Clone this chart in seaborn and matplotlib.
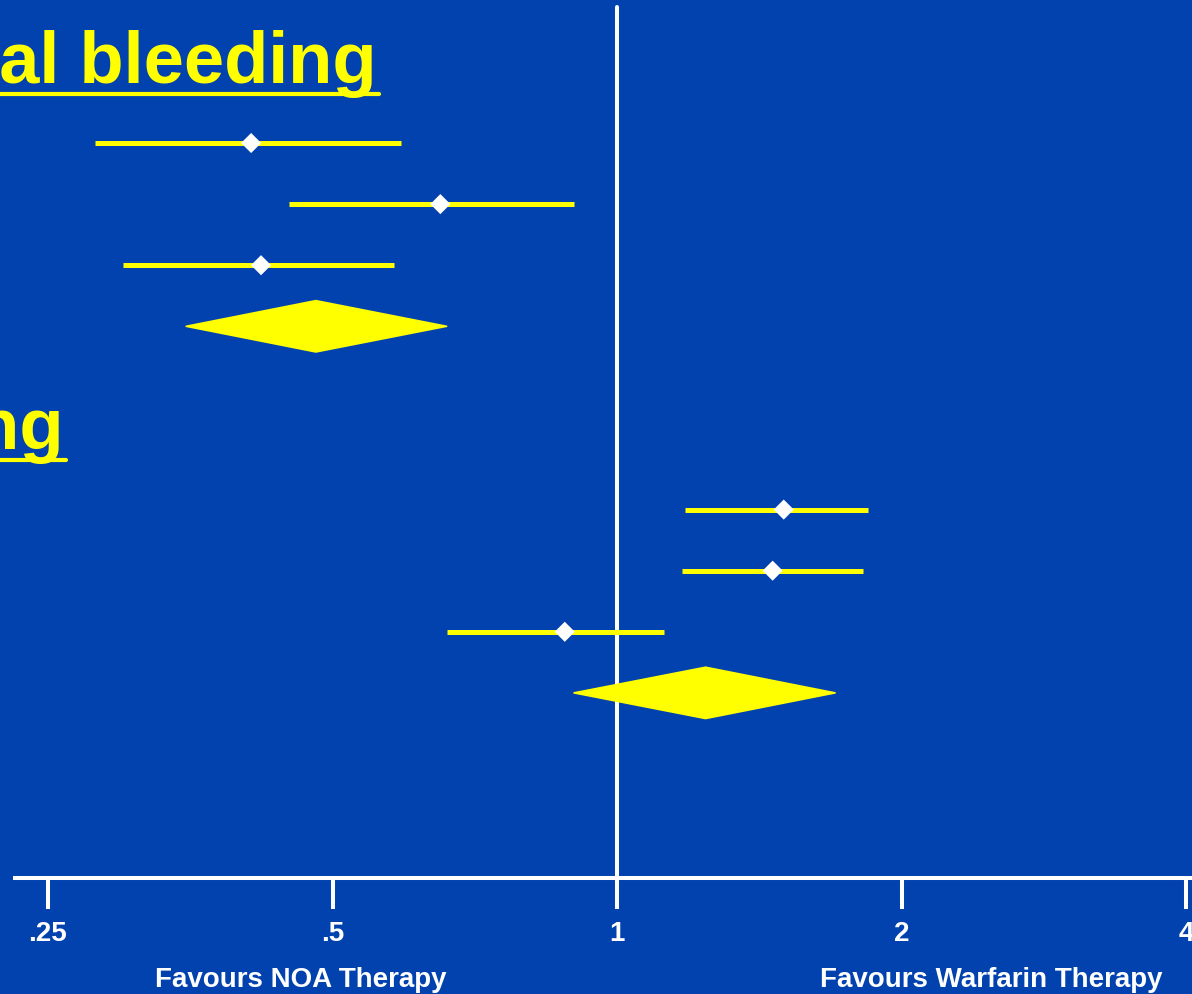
import numpy as np
import pandas as pd
import matplotlib
matplotlib.use("Agg")
import matplotlib.pyplot as plt
import seaborn as sns
from matplotlib.lines import Line2D

# Hazard ratios (NOA vs warfarin) with 95% confidence limits
ich_hr = [0.41, 0.65, 0.42]
ich_lo = [0.28, 0.45, 0.30]
ich_hi = [0.59, 0.90, 0.58]
ich_pooled = [0.48, 0.35, 0.66]      # estimate, lower, upper

gi_hr = [1.50, 1.46, 0.88]
gi_lo = [1.18, 1.17, 0.66]
gi_hi = [1.84, 1.82, 1.12]
gi_pooled = [1.24, 0.90, 1.70]       # estimate, lower, upper

section_titles = ["Intracranial bleeding", "GI bleeding"]
tick_values = [0.25, 0.5, 1, 2, 4]
tick_labels = [".25", ".5", "1", "2", "4"]
favour_labels = ["Favours NOA Therapy", "Favours Warfarin Therapy"]

BLUE = "#0242AF"
YELLOW = "#FFFF00"
WHITE = "#FFFFFF"

sns.set_theme(style="white")
plt.rcParams["font.family"] = ["Liberation Sans", "DejaVu Sans"]
plt.rcParams["font.weight"] = "bold"

# row layout: title, three trials, pooled diamond, gap, next section
sections = [
    (section_titles[0], ich_hr, ich_lo, ich_hi, ich_pooled),
    (section_titles[1], gi_hr, gi_lo, gi_hi, gi_pooled),
]
records, pooled_rows, title_rows = [], [], []
row = -1
for title, hr, lo, hi, pooled in sections:
    title_rows.append((title, row))
    for k in range(len(hr)):
        records.append({"hr": hr[k], "lo": lo[k], "hi": hi[k], "row": row + 1 + k})
    pooled_rows.append((pooled, row + 1 + len(hr)))
    row += len(hr) + 3
trials = pd.DataFrame(records)

W, H = 1192, 995
fig = plt.figure(figsize=(W / 100, H / 100), dpi=100, facecolor=BLUE)
ax = fig.add_axes([15 / W, (H - 879) / H, (W - 15) / W, 879 / H])
ax.set_facecolor(BLUE)

ax.set_xscale("log", base=2)
ax.set_xlim(0.2307, 4.054)
ax.set_ylim(12.03, -2.357)

# null line
ax.axvline(1, ymin=0, ymax=(879 - 8) / 879, color=WHITE, lw=2.9, zorder=1)

# confidence intervals
ax.hlines(trials["row"], trials["lo"], trials["hi"], color=YELLOW, lw=3.6, zorder=2)

# point estimates
sns.scatterplot(data=trials, x="hr", y="row", marker="D", s=105, color=WHITE,
                edgecolor="none", zorder=4, ax=ax, legend=False)

# pooled estimates as diamonds
half_h = 0.42
for (est, lo, hi), r in pooled_rows:
    ax.fill([lo, est, hi, est], [r, r - half_h, r, r + half_h],
            color=YELLOW, lw=1.2, ec=YELLOW, joinstyle="round", zorder=3)

# axis styling
for side in ["left", "top", "right"]:
    ax.spines[side].set_visible(False)
ax.spines["bottom"].set_color(WHITE)
ax.spines["bottom"].set_linewidth(2.9)
ax.set_xticks(tick_values)
ax.set_xticklabels(tick_labels)
ax.xaxis.set_minor_locator(matplotlib.ticker.NullLocator())
ax.tick_params(axis="x", direction="out", length=22, width=2.9, color=WHITE,
               labelcolor=WHITE, labelsize=20, pad=8, bottom=True)
for lab in ax.get_xticklabels():
    lab.set_fontweight("bold")
ax.set_yticks([])
ax.set_xlabel("")
ax.set_ylabel("")

fig.text(301 / W, (H - 987) / H, favour_labels[0], ha="center", va="baseline",
         color=WHITE, fontsize=20, fontweight="bold")
fig.text(991 / W, (H - 987) / H, favour_labels[1], ha="center", va="baseline",
         color=WHITE, fontsize=20, fontweight="bold")

# section headings: the first is right-anchored, the second shares its left edge
fig.canvas.draw()
renderer = fig.canvas.get_renderer()
head_size = 52
first_title, first_row = title_rows[0]
end_x = ax.transData.inverted().transform((376 + 0.5, 0))[0]
t0 = ax.text(end_x, first_row, first_title, ha="right", va="baseline", color=YELLOW,
             fontsize=head_size, fontweight="bold", clip_on=False, zorder=5)
fig.canvas.draw()
left_disp = t0.get_window_extent(renderer).x0
left_x = ax.transData.inverted().transform((left_disp, 0))[0]
title_artists = [(t0, first_row)]
for title, r in title_rows[1:]:
    t = ax.text(left_x, r, title, ha="left", va="baseline", color=YELLOW,
                fontsize=head_size, fontweight="bold", clip_on=False, zorder=5)
    title_artists.append((t, r))

# underline the headings
fig.canvas.draw()
to_fig = fig.transFigure.inverted()
for t, r in title_artists:
    bb = t.get_window_extent(renderer)
    base_y = ax.transData.transform((1, r))[1]
    y = base_y - 12
    (fx0, fy), (fx1, _) = to_fig.transform([(bb.x0, y), (bb.x1 + 3, y)])
    fig.add_artist(Line2D([fx0, fx1], [fy, fy], color=YELLOW, lw=3.0,
                          transform=fig.transFigure))

fig.savefig("out.png", dpi=100, facecolor=BLUE)
